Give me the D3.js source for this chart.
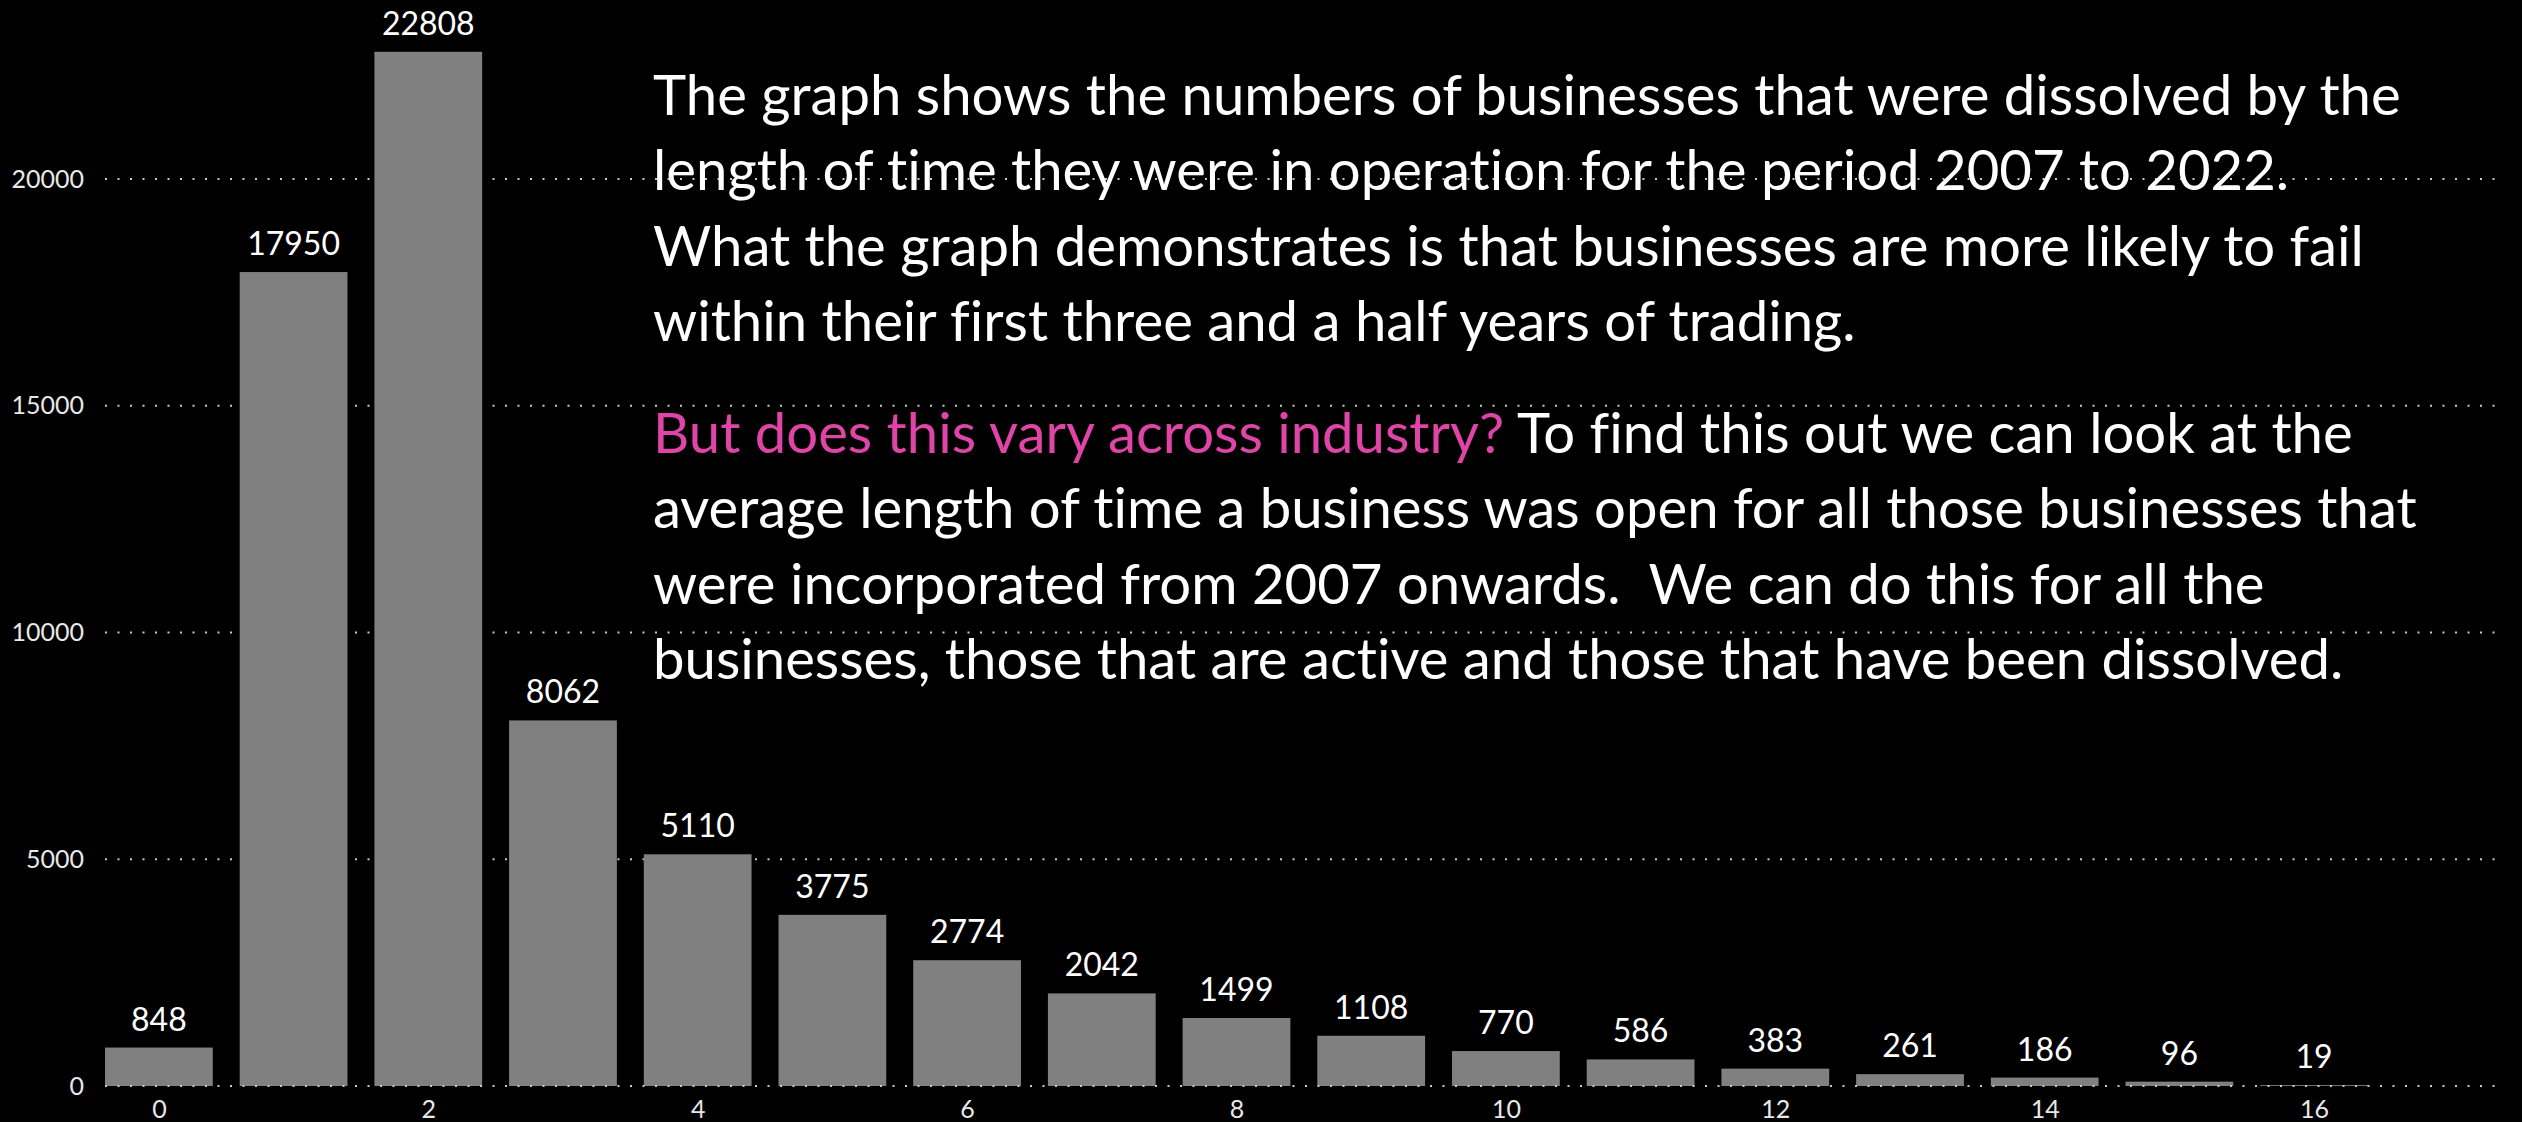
<!DOCTYPE html>
<html>
<head>
<meta charset="utf-8">
<script src="https://cdn.jsdelivr.net/npm/d3@7"></script>
<style>
  body { margin: 0; background: #000; overflow: hidden; }
  svg { display: block; }
  text { font-variant-ligatures: none; }
</style>
</head>
<body>
<script>
        var w = 2522;
        var h = 1122;
        var fontFam = "'Segoe UI', Lato, sans-serif";

        // years in operation before dissolution
        var years = [0, 1, 2, 3, 4, 5, 6, 7, 8, 9, 10, 11, 12, 13, 14, 15, 16];
        var dissolved = [848, 17950, 22808, 8062, 5110, 3775, 2774, 2042, 1499,
                         1108, 770, 586, 383, 261, 186, 96, 19];
        var yTicks = [0, 5000, 10000, 15000, 20000];
        var xTicks = [0, 2, 4, 6, 8, 10, 12, 14, 16];

        var para1 = [
          "The graph shows the numbers of businesses that were dissolved by the",
          "length of time they were in operation for the period 2007 to 2022.",
          "What the graph demonstrates is that businesses are more likely to fail",
          "within their first three and a half years of trading."
        ];
        var question = "But does this vary across industry?";
        var para2 = [
          " To find this out we can look at the",
          "average length of time a business was open for all those businesses that",
          "were incorporated from 2007 onwards.\u00a0 We can do this for all the",
          "businesses, those that are active and those that have been dissolved."
        ];

        var svg = d3.select("body").append("svg")
                  .attr("width", w)
                  .attr("height", h);

        var x = d3.scaleLinear().domain([-0.4, 17.38]).range([105, 2500]);
        var y = d3.scaleLinear().domain([0, 23950]).range([1086, 0]);
        var barW = x(0.8) - x(0);

        // dotted gridlines (behind the bars)
        svg.append("g")
           .selectAll("line").data(yTicks.filter(function(d) { return d > 0; }))
           .enter().append("line")
           .attr("x1", x(-0.4)).attr("x2", x(17.38))
           .attr("y1", function(d) { return y(d); })
           .attr("y2", function(d) { return y(d); })
           .attr("stroke", "#c8c8c8")
           .attr("stroke-width", 2)
           .attr("stroke-dasharray", "2 10.5");

        svg.selectAll("rect.bar")
           .data(dissolved)
           .enter()
           .append("rect")
           .attr("class", "bar")
           .attr("x", function(d, i) { return x(years[i]) - barW / 2; })
           .attr("y", function(d) { return y(d); })
           .attr("width", barW)
           .attr("height", function(d) { return y(0) - y(d); })
           .attr("fill", "#808080");

        // zero line sits on top of the bars
        svg.append("line")
           .attr("x1", x(-0.4)).attr("x2", x(17.38))
           .attr("y1", y(0)).attr("y2", y(0))
           .attr("stroke", "#c8c8c8")
           .attr("stroke-width", 2)
           .attr("stroke-dasharray", "2 10.5");

        svg.selectAll("text.val").data(dissolved)
           .enter().append("text")
           .attr("class", "val")
           .text(function(d) { return d; })
           .attr("text-anchor", "middle")
           .attr("x", function(d, i) { return x(years[i]); })
           .attr("y", function(d) { return y(d) - 17; })
           .attr("font-family", fontFam)
           .attr("font-size", "32px")
           .attr("fill", "#fff");

        // y axis
        var yAxis = d3.axisLeft(y).tickValues(yTicks).tickSize(0).tickPadding(0)
                      .tickFormat(d3.format("d"));
        var gy = svg.append("g").attr("transform", "translate(84,0)").call(yAxis);
        gy.select(".domain").remove();
        gy.selectAll("text")
          .attr("font-family", fontFam)
          .attr("font-size", "25px")
          .attr("fill", "#e8e8e8");

        // x axis
        var xAxis = d3.axisBottom(x).tickValues(xTicks).tickSize(0).tickPadding(0)
                      .tickFormat(d3.format("d"));
        var gx = svg.append("g").attr("transform", "translate(0,1100)").call(xAxis);
        gx.select(".domain").remove();
        gx.selectAll("text")
          .attr("dy", "0.71em")
          .attr("font-family", fontFam)
          .attr("font-size", "25px")
          .attr("fill", "#e8e8e8");

        // commentary text
        var tx = 653;
        var lineH = 75.3;
        var txt = svg.append("g")
                     .attr("font-family", fontFam)
                     .attr("font-size", "56px")
                     .attr("fill", "#fff");

        para1.forEach(function(s, i) {
          txt.append("text").attr("x", tx).attr("y", 115 + i * lineH).text(s);
        });

        var p2 = 453;
        para2.forEach(function(s, i) {
          var t = txt.append("text").attr("x", tx).attr("y", p2 + i * lineH);
          if (i == 0)
          {
            t.append("tspan").attr("fill", "#e044a7").text(question);
          }
          t.append("tspan").text(s);
        });

        // fit the first line to the width it has in the original
        var first = txt.select("text").node().getComputedTextLength();
        var fs = 56 * 1748 / first;
        txt.attr("font-size", fs + "px");
</script>
</body>
</html>
